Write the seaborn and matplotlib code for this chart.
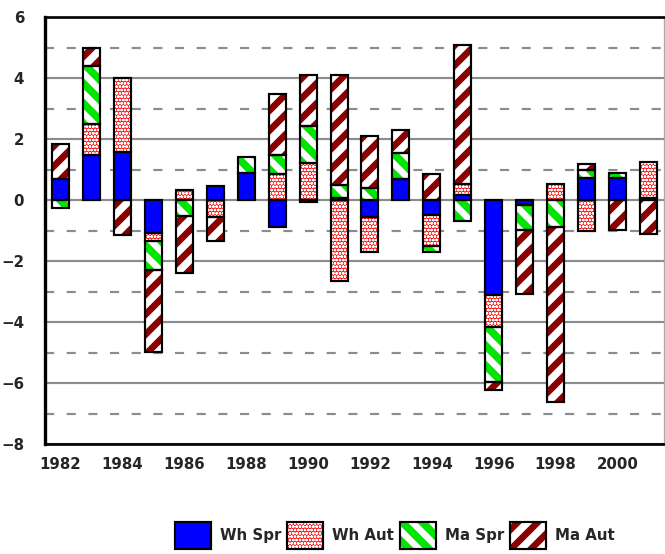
import numpy as np
import pandas as pd
import matplotlib
matplotlib.use('Agg')
import matplotlib.pyplot as plt
import seaborn as sns
from matplotlib.patches import Rectangle, Patch
from matplotlib.ticker import MultipleLocator, FixedLocator

# data
years = list(range(1982, 2002))
wh_spr = [0.7, 1.46, 1.57, -1.08, 0.0, 0.45, 0.9, -0.88, -0.08, 0.08,
          -0.55, 0.7, -0.5, 0.15, -3.1, -0.15, 0.0, 0.72, 0.72, 0.05]
wh_aut = [0.0, 1.03, 2.43, -0.27, 0.34, -0.55, 0.0, 0.84, 1.2, -2.65,
          -1.15, 0.0, -1.02, 0.37, -1.06, 0.0, 0.53, -1.0, 0.0, 1.19]
ma_spr = [-0.27, 1.89, 0.0, -0.93, -0.52, 0.0, 0.5, 0.63, 1.22, 0.42,
          0.4, 0.85, -0.2, -0.7, -1.82, -0.82, -0.88, 0.27, 0.15, 0.0]
ma_aut = [1.14, 0.6, -1.15, -2.7, -1.88, -0.78, 0.0, 2.02, 1.69, 3.6,
          1.71, 0.73, 0.86, 4.55, -0.24, -2.1, -5.75, 0.2, -0.98, -1.1]
series_names = ['Wh Spr', 'Wh Aut', 'Ma Spr', 'Ma Aut']
tick_years = [1982, 1984, 1986, 1988, 1990, 1992, 1994, 1996, 1998, 2000]

sns.set_style('white')
plt.rcParams['font.family'] = ['DejaVu Sans']
plt.rcParams['font.weight'] = 'bold'
plt.rcParams['hatch.linewidth'] = 4.2

styles = {
    'Wh Spr': dict(face='#0000ff', hatch=None, hc='#0000ff', hlw=1.0),
    'Wh Aut': dict(face='#ff1414', hatch='oooooo', hc='white', hlw=0.7),
    'Ma Spr': dict(face='white', hatch='\\\\', hc='#00e600', hlw=4.6),
    'Ma Aut': dict(face='white', hatch='//', hc='#8b0000', hlw=4.0),
}

df = pd.DataFrame({'year': years, 'Wh Spr': wh_spr, 'Wh Aut': wh_aut,
                   'Ma Spr': ma_spr, 'Ma Aut': ma_aut})

fig = plt.figure(figsize=(665 / 120, 554 / 120), dpi=120)
ax = fig.add_axes([45 / 665, 1 - 444 / 554, 619 / 665, 427 / 554])

pos = np.zeros(len(years))
neg = np.zeros(len(years))
for name in series_names:
    st = styles[name]
    vals = df[name].to_numpy()
    n0 = len(ax.patches)
    sns.barplot(data=df, x='year', y=name, color=st['face'], saturation=1,
                width=0.55, errorbar=None, ax=ax)
    bars = ax.patches[n0:]
    bottoms = np.where(vals >= 0, pos, neg)
    for bar, b, v in zip(bars, bottoms, vals):
        if v == 0:
            bar.set_visible(False)
            continue
        bar.set_y(b)
        bar.set_facecolor(st['face'])
        bar.set_edgecolor(st['hc'])
        bar.set_linewidth(0)
        bar.set_zorder(2)
        if st['hatch']:
            bar.set_hatch(st['hatch'])
            if hasattr(bar, 'set_hatch_linewidth'):
                bar.set_hatch_linewidth(st['hlw'])
        ax.add_patch(Rectangle((bar.get_x(), bar.get_y()), bar.get_width(), bar.get_height(),
                               fill=False, edgecolor='black', linewidth=1.3, zorder=3))
    pos += np.clip(vals, 0, None)
    neg += np.clip(vals, None, 0)

# axes
ax.set_xlim(-0.5, len(years) - 0.5)
ax.set_ylim(-8, 6)
ax.set_xlabel('')
ax.set_ylabel('')
ax.set_axisbelow(True)

ax.yaxis.set_major_locator(MultipleLocator(2))
ax.yaxis.set_minor_locator(MultipleLocator(1))
ax.grid(axis='y', which='major', color='#8c8c8c', linewidth=1.3, linestyle='-')
ax.grid(axis='y', which='minor', color='#8c8c8c', linewidth=1.3, linestyle=(0, (4.2, 5.8)))
ax.grid(axis='x', visible=False)

ax.xaxis.set_major_locator(FixedLocator([years.index(y) for y in tick_years]))
ax.set_xticklabels([str(y) for y in tick_years])
ax.xaxis.set_minor_locator(FixedLocator(np.arange(len(years) + 1) - 0.5))
ax.tick_params(axis='x', which='major', length=0, pad=8, labelsize=9)
ax.tick_params(axis='x', which='minor', length=7, width=1, direction='inout', color='#555555')
ax.tick_params(axis='y', which='both', length=7, width=1, direction='inout', color='#555555')
ax.tick_params(axis='y', which='major', pad=9, labelsize=9)

for s in ['left', 'bottom', 'top']:
    ax.spines[s].set_color('black')
ax.spines['left'].set_linewidth(2)
ax.spines['bottom'].set_linewidth(1.6)
ax.spines['top'].set_linewidth(1.6)
ax.spines['right'].set_color('#aaaaaa')
ax.spines['right'].set_linewidth(0.8)

# legend
handles = []
for name in series_names:
    st = styles[name]
    fillp = Patch(facecolor=st['face'], edgecolor=st['hc'], hatch=st['hatch'], linewidth=0)
    edgep = Patch(fill=False, edgecolor='black', linewidth=1.3)
    handles.append((fillp, edgep))
leg = fig.legend(handles, series_names, loc='center', bbox_to_anchor=(0.594, 0.034), ncol=4,
                 frameon=False, handlelength=2.4, handleheight=2.4, handletextpad=0.6,
                 columnspacing=0.4, fontsize=9)
# the legend copies do not keep the per-patch hatch width, so set it again
hlw_by_hatch = {st['hatch']: st['hlw'] for st in styles.values() if st['hatch']}
for p in leg.findobj(Rectangle):
    h = p.get_hatch()
    if h in hlw_by_hatch and hasattr(p, 'set_hatch_linewidth'):
        p.set_hatch_linewidth(hlw_by_hatch[h])

fig.savefig('out.png', dpi=120)
